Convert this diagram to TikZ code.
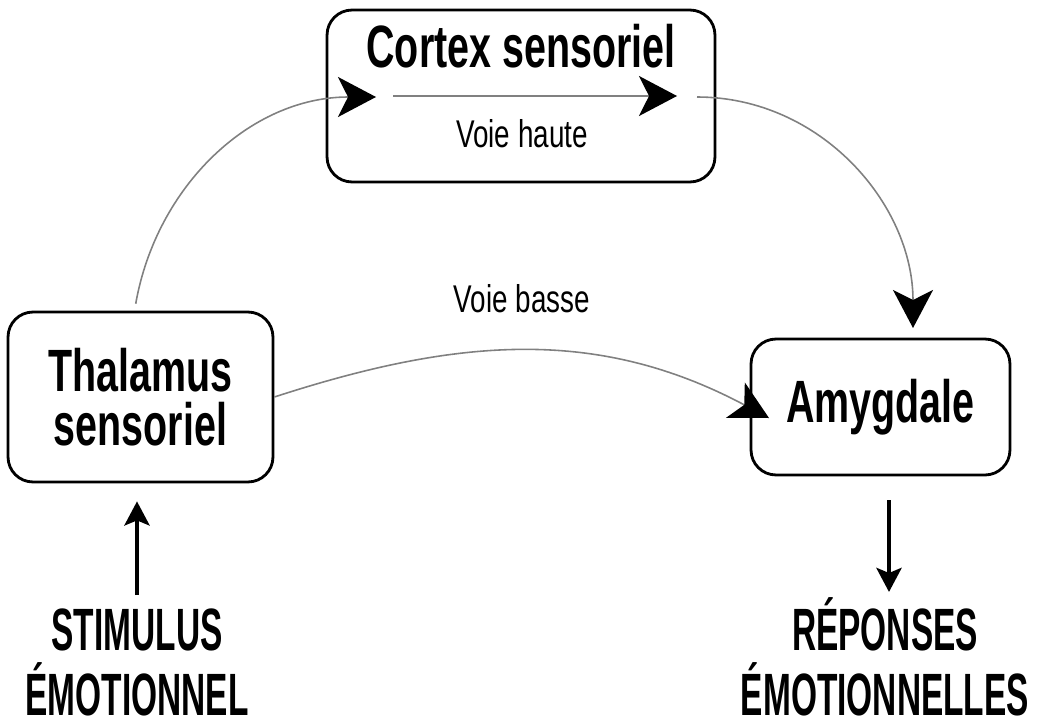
\documentclass[tikz,border=0pt]{standalone}
\usepackage{fontspec}
\setmainfont{Liberation Sans}
\newfontfamily\narrowfont[FakeStretch=0.66]{Liberation Sans}
\newfontfamily\voiefont[FakeStretch=0.72]{Liberation Sans}
\newfontfamily\capsfont[FakeStretch=0.56]{Liberation Sans}
\usetikzlibrary{arrows.meta}

\begin{document}
\begin{tikzpicture}
[x=0.02cm,y=0.02cm,>={Stealth[color=black,length=0.76cm,width=0.8cm,inset=0.2cm]}]
\tikzstyle{box}=[draw=black,line width=1.6pt,rounded corners=0.5cm,fill=white,align=center,
  font=\narrowfont\bfseries\fontsize{34}{31}\selectfont]
\tikzstyle{title}=[inner sep=0pt,anchor=base,font=\narrowfont\bfseries\fontsize{34}{30}\selectfont]
\tikzstyle{voie}=[inner sep=0pt,anchor=base,font=\voiefont\fontsize{22}{24}\selectfont]
\tikzstyle{ends}=[inner sep=0pt,anchor=base,align=center,font=\capsfont\bfseries\fontsize{34}{37}\selectfont]
\tikzstyle{line}=[->,line width=0.9pt,every edge/.style={draw=black!50}]
\tikzstyle{bigarrow}=[draw=black,line width=2.6pt,-{Stealth[length=0.48cm,width=0.5cm,inset=0.1cm]}]
\useasboundingbox (0,0) rectangle (1038,725);

\node[box,minimum width=7.76cm,minimum height=3.44cm] (cortex) at (521,629) {};
\node[title] (cortextitle) at (521,658) {Cortex sensoriel};
\node[voie] (haute) at (522,578) {Voie haute};
\node[box,minimum width=5.3cm,minimum height=3.4cm] (thalamus) at (140.5,328) {Thalamus\\sensoriel};
\node[box,minimum width=5.18cm,minimum height=2.72cm] (amygdale) at (880.5,318) {Amygdale};
\node[voie] (basse) at (522,413) {Voie basse};
\node[ends] (stimulus) at (137,10) {STIMULUS\\ÉMOTIONNEL};
\node[ends] (reponses) at (885,10) {RÉPONSES\\ÉMOTIONNELLES};

\coordinate (hin) at (376,628);
\coordinate (hstart) at (393,629);
\coordinate (hend) at (677,629);
\coordinate (hout) at (697,628);
\coordinate (ain) at (913,397);
\coordinate (bin) at (769,307);
\coordinate (sbot) at (137,130);
\coordinate (rtop) at (889,225);

\path[line]
([xshift=-0.12cm]thalamus.north) edge [out=80,in=180,shorten <=0.14cm] (hin)

(hstart) edge (hend)

(hout) edge [out=0,in=90] (ain)

(thalamus.east) edge [out=18,in=152] (bin)
;

\draw[bigarrow] (sbot) -- ([yshift=-0.36cm]sbot |- thalamus.south);
\draw[bigarrow] (rtop) -- ([yshift=-1.84cm]rtop);
\end{tikzpicture}
\end{document}
